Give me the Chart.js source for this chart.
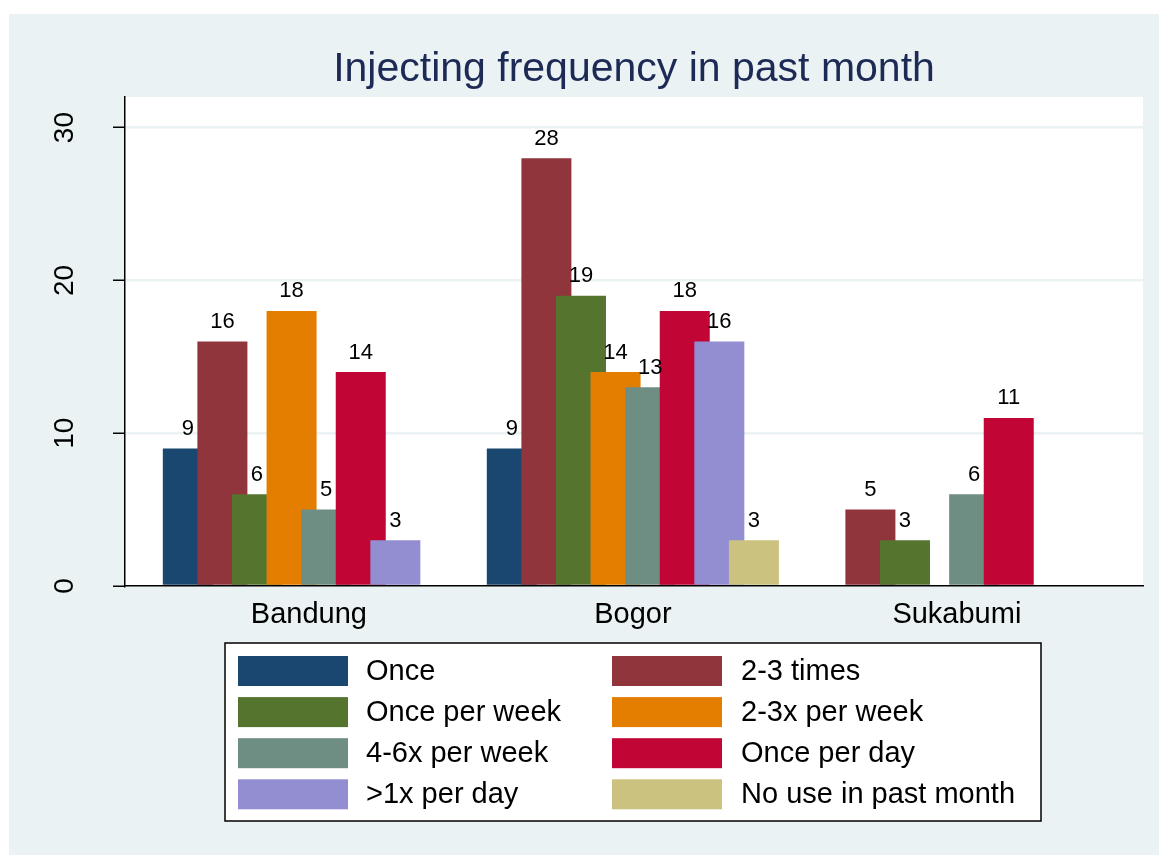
<!DOCTYPE html>
<html>
<head>
<meta charset="utf-8">
<script src="https://cdn.jsdelivr.net/npm/chart.js@4/dist/chart.umd.min.js"></script>
<style>
  body { margin: 0; background: #ffffff; }
  canvas { display: block; }
</style>
</head>
<body>
<canvas id="myChart" width="1159" height="855"></canvas>
<script>
// data
var categories = ['Bandung', 'Bogor', 'Sukabumi'];
var seriesNames = ['Once', '2-3 times', 'Once per week', '2-3x per week',
                   '4-6x per week', 'Once per day', '>1x per day', 'No use in past month'];
var once            = [9, 9, null];
var twoThreeTimes   = [16, 28, 5];
var oncePerWeek     = [6, 19, 3];
var twoThreePerWeek = [18, 14, null];
var fourSixPerWeek  = [5, 13, 6];
var oncePerDay      = [14, 18, 11];
var overOncePerDay  = [3, 16, null];
var noUse           = [null, 3, null];
var yTicks = [0, 10, 20, 30];

// stata s2color palette
var colors = ['#1A476F', '#90353B', '#55752F', '#E37E00', '#6E8E84', '#C10534', '#938DD2', '#CAC27E'];
var FONT = "'Liberation Sans', Arial, Helvetica, sans-serif";

var allSeries = [once, twoThreeTimes, oncePerWeek, twoThreePerWeek, fourSixPerWeek, oncePerDay, overOncePerDay, noUse];

function toPoints(values) {
  var pts = [];
  for (var i = 0; i < values.length; ++i) {
    if (values[i] !== null) pts.push({ x: i, y: values[i] });
  }
  return pts;
}

var datasets = allSeries.map(function (values, k) {
  return {
    label: seriesNames[k],
    data: toPoints(values),
    backgroundColor: colors[k],
    borderWidth: 0,
    categoryPercentage: 0.854,
    barPercentage: 1.446
  };
});

// panel + white plot region
var background = {
  id: 'background',
  beforeDraw(chart) {
    const ctx = chart.ctx, a = chart.chartArea;
    ctx.save();
    ctx.fillStyle = '#EAF2F3';
    ctx.fillRect(9, 14, chart.width - 9, chart.height - 14);
    ctx.fillStyle = '#ffffff';
    ctx.fillRect(a.left, a.top, a.right - a.left, a.bottom - a.top);
    ctx.restore();
  }
};

// stata draws later bars over earlier ones, chart.js does the opposite
var drawOrder = {
  id: 'drawOrder',
  beforeDatasetsDraw(chart) {
    const ctx = chart.ctx;
    for (let i = 0; i < chart.data.datasets.length; i++) {
      const meta = chart.getDatasetMeta(i);
      if (meta.visible) meta.controller.draw();
    }
    // value labels on top
    ctx.save();
    ctx.fillStyle = '#000';
    ctx.font = '22px ' + FONT;
    ctx.textAlign = 'center';
    ctx.textBaseline = 'alphabetic';
    for (let i = 0; i < chart.data.datasets.length; i++) {
      const meta = chart.getDatasetMeta(i);
      meta.data.forEach(function (el, j) {
        ctx.fillText(String(chart.data.datasets[i].data[j].y), el.x, el.y - 13.5);
      });
    }
    ctx.restore();
    return false;
  }
};

// two column boxed legend
var boxLegend = {
  id: 'boxLegend',
  afterDraw(chart) {
    const ctx = chart.ctx;
    ctx.save();
    ctx.fillStyle = '#ffffff';
    ctx.fillRect(225, 643, 816, 178);
    ctx.strokeStyle = '#000';
    ctx.lineWidth = 1.5;
    ctx.strokeRect(225, 643, 816, 178);
    ctx.font = '29px ' + FONT;
    ctx.textBaseline = 'middle';
    ctx.textAlign = 'left';
    chart.data.datasets.forEach(function (ds, k) {
      const col = k % 2, row = Math.floor(k / 2);
      const sx = col === 0 ? 238 : 612;
      const tx = col === 0 ? 366 : 741;
      const sy = 656 + row * 41.1;
      ctx.fillStyle = ds.backgroundColor;
      ctx.fillRect(sx, sy, 110, 30);
      ctx.fillStyle = '#000';
      ctx.fillText(ds.label, tx, sy + 16);
    });
    ctx.restore();
  }
};

Chart.defaults.font.family = FONT;

var ctx = document.getElementById('myChart').getContext('2d');
var myChart = new Chart(ctx, {
  type: 'bar',
  data: { datasets: datasets },
  options: {
    responsive: false,
    animation: false,
    layout: { padding: { top: 14, left: 9, right: 16, bottom: 219 } },
    plugins: {
      legend: { display: false },
      tooltip: { enabled: false },
      title: {
        display: true,
        text: 'Injecting frequency in past month',
        color: '#1C2A55',
        fullSize: false,
        font: { size: 41, weight: 'normal', lineHeight: 1.2 },
        padding: { top: 31, bottom: 2.8 }
      }
    },
    scales: {
      x: {
        type: 'linear',
        offset: false,
        min: -0.5675,
        max: 2.5745,
        afterBuildTicks: function (scale) {
          scale.ticks = categories.map(function (c, i) { return { value: i }; });
        },
        afterFit: function (scale) { scale.height = 50; },
        grid: { display: false, drawTicks: false },
        border: { display: true, color: '#000', width: 1.5 },
        ticks: {
          color: '#000',
          font: { size: 29 },
          padding: 12,
          maxRotation: 0,
          callback: function (v) { return categories[v]; }
        }
      },
      y: {
        min: 0,
        max: 32,
        afterBuildTicks: function (scale) {
          scale.ticks = yTicks.map(function (v) { return { value: v }; });
        },
        afterFit: function (scale) { scale.width = 116; },
        grid: {
          color: function (c) { return c.tick && c.tick.value === 0 ? 'rgba(0,0,0,0)' : '#EAF2F3'; },
          lineWidth: 2.5,
          drawTicks: true,
          tickLength: 12,
          tickColor: '#000',
          tickWidth: 1.5
        },
        border: { display: true, color: '#000', width: 1.5 },
        ticks: {
          color: '#000',
          font: { size: 28 },
          minRotation: 90,
          maxRotation: 90,
          crossAlign: 'center',
          padding: 32
        }
      }
    }
  },
  plugins: [background, drawOrder, boxLegend]
});
</script>
</body>
</html>
